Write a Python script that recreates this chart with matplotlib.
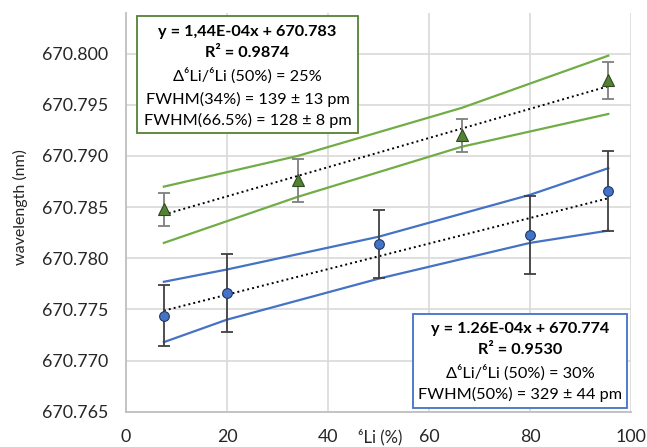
import numpy as np
import matplotlib
matplotlib.use("Agg")
import matplotlib.pyplot as plt
from matplotlib.patches import Rectangle

plt.rcParams['font.family'] = ['Lato', 'DejaVu Sans']

# 6Li content (%) and measured wavelength (nm)
x_green = [7.5, 34, 66.5, 95.5]
y_green = [670.7848, 670.7876, 670.7920, 670.7974]
err_green = [0.0016, 0.0021, 0.0016, 0.0018]
green_upper = [670.7870, 670.7900, 670.7947, 670.7998]
green_lower = [670.7815, 670.7860, 670.7909, 670.7941]

x_blue = [7.5, 20, 50, 80, 95.5]
y_blue = [670.7744, 670.7766, 670.7814, 670.7823, 670.7866]
err_blue = [0.0030, 0.0038, 0.0033, 0.0038, 0.0039]
blue_upper = [670.7777, 670.7789, 670.7821, 670.7862, 670.7888]
blue_lower = [670.7718, 670.7740, 670.7780, 670.7815, 670.7827]

green_text = ["y = 1,44E-04x + 670.783", "R² = 0.9874",
              "Δ⁶Li/⁶Li (50%) = 25%", "FWHM(34%) = 139 ± 13 pm",
              "FWHM(66.5%) = 128 ± 8 pm"]
blue_text = ["y = 1.26E-04x + 670.774", "R² = 0.9530",
             "Δ⁶Li/⁶Li (50%) = 30%", "FWHM(50%) = 329 ± 44 pm"]

y_ticks = [670.765, 670.770, 670.775, 670.780, 670.785, 670.790, 670.795, 670.800]
x_ticks = [0, 20, 40, 60, 80, 100]

W, H = 647, 447
GREEN = '#70AD47'
BLUE = '#4472C4'


def px(x, y):
    return x / W, 1 - y / H


fig = plt.figure(figsize=(W / 100, H / 100), dpi=100)
ax = fig.add_axes([126 / W, 1 - 411.7 / H, (631 - 126) / W, (411.7 - 12.7) / H])

# confidence bands
ax.plot(x_green, green_upper, color=GREEN, lw=1.6, zorder=2)
ax.plot(x_green, green_lower, color=GREEN, lw=1.6, zorder=2)
ax.plot(x_blue, blue_upper, color=BLUE, lw=1.6, zorder=2)
ax.plot(x_blue, blue_lower, color=BLUE, lw=1.6, zorder=2)

# linear trend lines
for xs, ys in [(x_green, y_green), (x_blue, y_blue)]:
    k, b = np.polyfit(xs, ys, 1)
    xx = np.array([xs[0], xs[-1]])
    ax.plot(xx, k * xx + b, color='black', lw=1.4, ls=(0, (1, 1.6)), zorder=3)

ax.errorbar(x_green, y_green, yerr=err_green, fmt='none', ecolor='#7F7F7F',
            elinewidth=1.3, capsize=4, capthick=1.3, zorder=4)
ax.errorbar(x_blue, y_blue, yerr=err_blue, fmt='none', ecolor='#404040',
            elinewidth=1.3, capsize=4, capthick=1.3, zorder=4)
ax.plot(x_green, y_green, ls='none', marker='^', ms=8, mfc='#548235',
        mec='#2F4A1C', mew=0.8, zorder=5)
ax.plot(x_blue, y_blue, ls='none', marker='o', ms=7, mfc=BLUE,
        mec='#1F3864', mew=0.8, zorder=5)

ax.set_xlim(0, 100)
ax.set_ylim(670.765, 670.804)
ax.set_xticks(x_ticks)
ax.set_yticks(y_ticks)
ax.set_yticklabels([f"{v:.3f}" for v in y_ticks])
ax.tick_params(length=0, labelsize=12.8, colors='#262626')
ax.tick_params(axis='y', pad=13)
ax.tick_params(axis='x', pad=12.5)
ax.grid(True, color='#D9D9D9', lw=1.2)
ax.set_axisbelow(True)
for s in ['top', 'right']:
    ax.spines[s].set_visible(False)
for s in ['left', 'bottom']:
    ax.spines[s].set_color('#BFBFBF')
    ax.spines[s].set_linewidth(1.3)

fig.text(*px(20, 207), "wavelength (nm)", rotation=90, ha='center',
         va='center', fontsize=11.5, color='#262626')
fig.text(*px(380, 437), "⁶Li (%)", ha='center', va='center',
         fontsize=12, color='#262626')

# annotation boxes
fig.patches.append(Rectangle(px(137, 133), 221 / W, 117 / H, transform=fig.transFigure,
                             fill=True, fc='white', ec='#548235', lw=1.3, zorder=6))
fig.patches.append(Rectangle(px(413, 407.7), 214 / W, 93.7 / H, transform=fig.transFigure,
                             fill=True, fc='white', ec=BLUE, lw=1.3, zorder=6))

for i, (t, yy) in enumerate(zip(green_text, [32, 53, 76, 99, 120])):
    fig.text(*px(247.5, yy), t, ha='center', va='center', fontsize=11.7,
             fontweight='bold' if i < 2 else 'normal', color='black', zorder=7)
for i, (t, yy) in enumerate(zip(blue_text, [329, 350, 373, 394])):
    fig.text(*px(520, yy), t, ha='center', va='center', fontsize=11.7,
             fontweight='bold' if i < 2 else 'normal', color='black', zorder=7)

fig.savefig("out.png", dpi=100)
